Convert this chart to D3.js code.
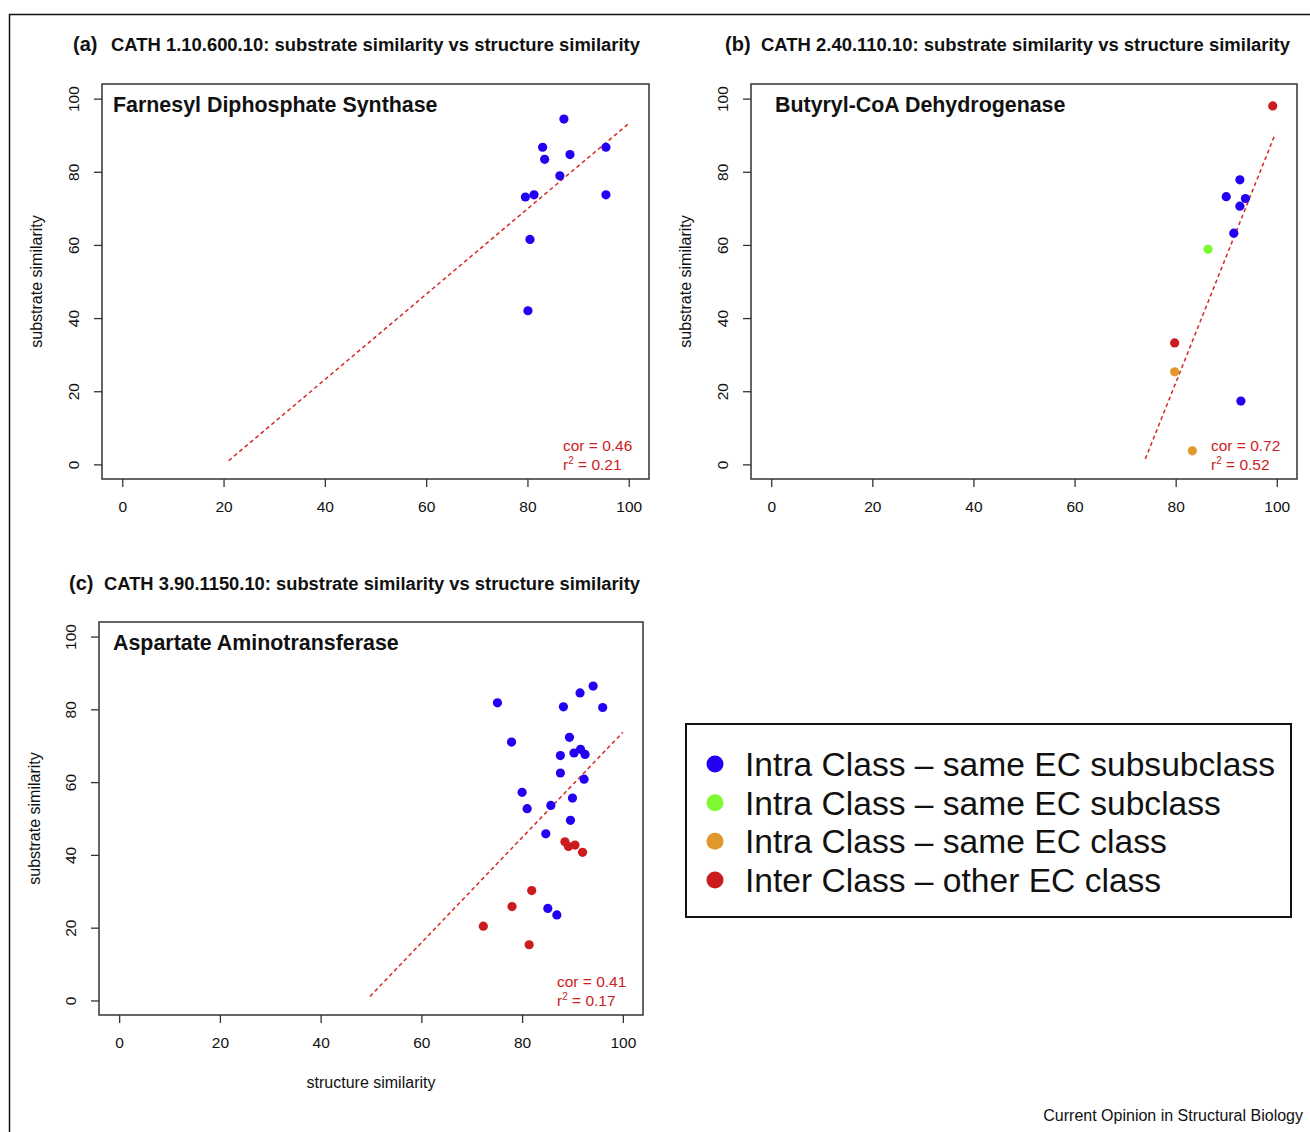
<!DOCTYPE html>
<html>
<head>
<meta charset="utf-8">
<script src="https://cdn.jsdelivr.net/npm/d3@7"></script>
<style>
  body { margin: 0; background: #fff; }
  svg { display: block; font-family: "Liberation Sans", Arial, Helvetica, sans-serif; }
</style>
</head>
<body>
<svg id="chart" width="1310" height="1132"></svg>
<script>
// ---------------- DATA ----------------
const categories = [
  "Intra Class \u2013 same EC subsubclass",
  "Intra Class \u2013 same EC subclass",
  "Intra Class \u2013 same EC class",
  "Inter Class \u2013 other EC class"
];
const categoryColors = ["#2200f2", "#7dfa32", "#e0982c", "#cc1b1e"];

const panelLetters = ["(a)", "(b)", "(c)"];
const panelTitles = [
  "CATH 1.10.600.10: substrate similarity vs structure similarity",
  "CATH 2.40.110.10: substrate similarity vs structure similarity",
  "CATH 3.90.1150.10: substrate similarity vs structure similarity"
];
const enzymeNames = ["Farnesyl Diphosphate Synthase", "Butyryl-CoA Dehydrogenase", "Aspartate Aminotransferase"];
const corLabels = ["cor = 0.46", "cor = 0.72", "cor = 0.41"];
const r2Values = ["0.21", "0.52", "0.17"];

const tickValues = [0, 20, 40, 60, 80, 100];

// points: [structure similarity, substrate similarity, category index]
const pointsA = [
  [87.2, 94.4, 0], [83.0, 86.7, 0], [95.5, 86.7, 0], [83.4, 83.4, 0],
  [88.4, 84.7, 0], [86.4, 78.9, 0], [79.6, 73.1, 0], [81.3, 73.7, 0],
  [95.5, 73.7, 0], [80.5, 61.5, 0], [80.1, 42.0, 0]
];
const pointsB = [
  [99.2, 98.0, 3], [92.7, 77.8, 0], [90.0, 73.2, 0], [93.8, 72.7, 0],
  [92.7, 70.6, 0], [91.5, 63.2, 0], [86.4, 58.8, 1], [79.8, 33.2, 3],
  [79.8, 25.3, 2], [92.9, 17.3, 0], [83.3, 3.7, 2]
];
const pointsC = [
  [75.1, 81.8, 0], [91.5, 84.5, 0], [94.1, 86.4, 0], [88.2, 80.7, 0],
  [96.0, 80.5, 0], [77.9, 71.0, 0], [89.4, 72.3, 0], [90.3, 68.0, 0],
  [91.6, 69.0, 0], [92.5, 67.6, 0], [87.6, 67.3, 0], [87.6, 62.5, 0],
  [92.3, 60.8, 0], [80.0, 57.2, 0], [81.0, 52.7, 0], [85.7, 53.6, 0],
  [90.0, 55.6, 0], [89.6, 49.5, 0], [84.7, 45.8, 0], [88.5, 43.6, 3],
  [89.2, 42.3, 3], [90.5, 42.7, 3], [92.0, 40.7, 3], [81.9, 30.2, 3],
  [78.0, 25.8, 3], [72.3, 20.4, 3], [81.4, 15.3, 3], [85.1, 25.3, 0],
  [86.9, 23.5, 0]
];
const allPoints = [pointsA, pointsB, pointsC];

// regression line end points [x1, y1, x2, y2]
const fitLines = [
  [21.0, 1.0, 100.0, 93.2],
  [74.0, 1.5, 99.7, 90.4],
  [49.8, 1.1, 100.0, 73.7]
];

const yAxisLabel = "substrate similarity";
const xAxisLabel = "structure similarity";
const footer = "Current Opinion in Structural Biology";

// ---------------- LAYOUT ----------------
const boxes = [
  { left: 102, right: 649, top: 84, bottom: 479, titleY: 51, letterX: 73, titleX: 111, titleW: 529, ylabX: 42, nameX: 113, showX: false },
  { left: 751, right: 1297, top: 84, bottom: 479, titleY: 51, letterX: 725, titleX: 761, titleW: 529, ylabX: 691, nameX: 775, showX: false },
  { left: 99, right: 643, top: 622, bottom: 1015, titleY: 590, letterX: 69, titleX: 104, titleW: 536, ylabX: 40, nameX: 113, showX: true }
];

const svg = d3.select("#chart");

// outer frame
svg.append("path")
  .attr("d", "M9.5,1132 L9.5,14.5 L1310,14.5")
  .attr("fill", "none").attr("stroke", "#111").attr("stroke-width", 1.5);

boxes.forEach((b, i) => {
  const x = d3.scaleLinear().domain([-4, 104]).range([b.left, b.right]);
  const y = d3.scaleLinear().domain([-4, 104]).range([b.bottom, b.top]);
  const g = svg.append("g");

  // title
  g.append("text").attr("x", b.letterX).attr("y", b.titleY)
    .attr("font-size", 20).attr("font-weight", "bold").attr("fill", "#111")
    .text(panelLetters[i]);
  g.append("text").attr("x", b.titleX).attr("y", b.titleY)
    .attr("font-size", 18).attr("font-weight", "bold").attr("fill", "#111")
    .attr("textLength", b.titleW).attr("lengthAdjust", "spacingAndGlyphs")
    .text(panelTitles[i]);

  // axes
  const xAxis = d3.axisBottom(x).tickValues(tickValues).tickSize(8).tickPadding(14).tickFormat(d3.format("d"));
  const gx = g.append("g").attr("transform", `translate(0,${b.bottom})`).call(xAxis);
  gx.select(".domain").remove();
  gx.selectAll("line").attr("stroke", "#333").attr("stroke-width", 1.3);
  gx.selectAll("text").attr("font-size", 15.5).attr("fill", "#111").attr("font-family", "Liberation Sans, Arial, sans-serif");

  const yAxis = d3.axisLeft(y).tickValues(tickValues).tickSize(8).tickFormat(d3.format("d"));
  const gy = g.append("g").attr("transform", `translate(${b.left},0)`).call(yAxis);
  gy.select(".domain").remove();
  gy.selectAll("line").attr("stroke", "#333").attr("stroke-width", 1.3);
  gy.selectAll("text")
    .attr("font-size", 15.5).attr("fill", "#111").attr("font-family", "Liberation Sans, Arial, sans-serif")
    .attr("x", null).attr("dy", null)
    .attr("text-anchor", "middle")
    .attr("transform", `translate(${-23},0) rotate(-90)`)
    .attr("y", 0);

  // y label
  g.append("text")
    .attr("transform", `translate(${b.ylabX},${(b.top + b.bottom) / 2}) rotate(-90)`)
    .attr("text-anchor", "middle").attr("font-size", 16).attr("fill", "#111")
    .text(yAxisLabel);

  if (b.showX) {
    g.append("text").attr("x", (b.left + b.right) / 2).attr("y", b.bottom + 73)
      .attr("text-anchor", "middle").attr("font-size", 16).attr("fill", "#111")
      .text(xAxisLabel);
  }

  // fit line
  const fl = fitLines[i];
  g.append("line")
    .attr("x1", x(fl[0])).attr("y1", y(fl[1]))
    .attr("x2", x(fl[2])).attr("y2", y(fl[3]))
    .attr("stroke", "#d42a2a").attr("stroke-width", 1.5)
    .attr("stroke-dasharray", "4,3");

  // points
  g.selectAll("circle.pt").data(allPoints[i]).join("circle")
    .attr("class", "pt")
    .attr("cx", d => x(d[0])).attr("cy", d => y(d[1]))
    .attr("r", 4.6)
    .attr("fill", d => categoryColors[d[2]]);

  // box
  g.append("rect")
    .attr("x", b.left).attr("y", b.top)
    .attr("width", b.right - b.left).attr("height", b.bottom - b.top)
    .attr("fill", "none").attr("stroke", "#333").attr("stroke-width", 1.5);

  // enzyme name
  g.append("text").attr("x", b.nameX).attr("y", b.top + 28)
    .attr("font-size", 21.4).attr("font-weight", "bold").attr("fill", "#111")
    .text(enzymeNames[i]);

  // stats
  const sx = b.right - 86;
  g.append("text").attr("x", sx).attr("y", b.bottom - 28)
    .attr("font-size", 15.5).attr("fill", "#cc2222").text(corLabels[i]);
  const r2 = g.append("text").attr("x", sx).attr("y", b.bottom - 9)
    .attr("font-size", 15.5).attr("fill", "#cc2222");
  r2.append("tspan").text("r");
  r2.append("tspan").attr("dy", -6).attr("font-size", 10).text("2");
  r2.append("tspan").attr("dy", 6).text(" = " + r2Values[i]);
});

// legend
const lg = svg.append("g");
lg.append("rect").attr("x", 686).attr("y", 724).attr("width", 605).attr("height", 193)
  .attr("fill", "#fff").attr("stroke", "#111").attr("stroke-width", 2);
const ly = d3.scalePoint().domain(d3.range(categories.length)).range([764, 880]);
categories.forEach((c, i) => {
  lg.append("circle").attr("cx", 715).attr("cy", ly(i)).attr("r", 8.5).attr("fill", categoryColors[i]);
  lg.append("text").attr("x", 745).attr("y", ly(i) + 12).attr("font-size", 33.6).attr("fill", "#111").text(c);
});

// footer
svg.append("text").attr("x", 1303).attr("y", 1121).attr("text-anchor", "end")
  .attr("font-size", 16).attr("fill", "#111").text(footer);
</script>
</body>
</html>
